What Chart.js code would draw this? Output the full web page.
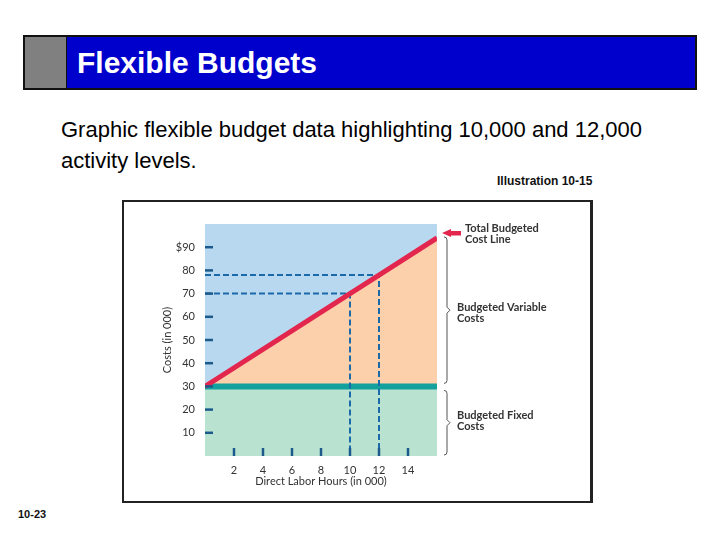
<!DOCTYPE html>
<html>
<head>
<meta charset="utf-8">
<script src="https://cdn.jsdelivr.net/npm/chart.js@4.4.0/dist/chart.umd.min.js"></script>
<style>
  body { margin: 0; width: 720px; height: 540px; background: #fff; position: relative; overflow: hidden;
         font-family: Arial, "Liberation Sans", sans-serif; }
  .titlebar { position: absolute; left: 23px; top: 35px; width: 670px; height: 51px;
              border: 2px solid #111; background: #0000cc; }
  .titlebar .grey { position: absolute; left: 0; top: 0; width: 41px; height: 51px;
                    background: #808080; border-right: 1px solid #111; }
  .titlebar h1 { position: absolute; left: 52px; top: 0; margin: 0; line-height: 51px;
                 font-size: 30px; font-weight: bold; color: #fff; }
  .subtitle { position: absolute; left: 61px; top: 114px; font-size: 22px; line-height: 31px; color: #000; }
  .illus { position: absolute; left: 497px; top: 174px; font-family: "Liberation Sans Narrow", "Arial Narrow", Arial, sans-serif;
           font-size: 12px; font-weight: bold; color: #111; }
  .pageno { position: absolute; left: 18px; top: 508px; font-size: 11px; font-weight: bold; color: #111; }
  .box { position: absolute; left: 122px; top: 200px; width: 466px; height: 299px;
         border: 2px solid #222; border-right-width: 3px; }
  #wrap { position: absolute; left: 122px; top: 200px; width: 471px; height: 303px; }
</style>
</head>
<body>
<div class="titlebar"><div class="grey"></div><h1>Flexible Budgets</h1></div>
<div class="subtitle">Graphic flexible budget data highlighting 10,000 and 12,000<br>activity levels.</div>
<div class="illus">Illustration 10-15</div>
<div class="box"></div>
<div id="wrap"><canvas id="myChart"></canvas></div>
<div class="pageno">10-23</div>
<script>
// data (hours and costs in 000)
var hours = [0, 10, 12, 16];
var totalCost = [30, 70, 78, 94];
var fixedCost = [30, 30, 30, 30];
var guideHours = [10, 12];
var guideCost = [70, 78];
var yTickLabels = ['', '10', '20', '30', '40', '50', '60', '70', '80', '$90', ''];
var xTickLabels = ['', '2', '4', '6', '8', '10', '12', '14', ''];

var toPoints = function (ys) {
    return hours.map(function (h, i) { return { x: h, y: ys[i] }; });
};

// dashed guide from the y axis to the cost line and down to the x axis
var guideSet = function (i) {
    return {
        data: [{ x: 0, y: guideCost[i] }, { x: guideHours[i], y: guideCost[i] }, { x: guideHours[i], y: 0 }],
        borderColor: '#1b69a8',
        borderWidth: 2,
        borderDash: [6, 3],
        pointRadius: 0,
        fill: false,
        order: 2
    };
};

// blue background of the plot area
var plotBackground = {
    id: 'plotBackground',
    beforeDraw: function (chart) {
        var a = chart.chartArea, ctx = chart.ctx;
        ctx.save();
        ctx.fillStyle = '#b8d8f0';
        ctx.fillRect(a.left, a.top, a.right - a.left, a.bottom - a.top);
        ctx.restore();
    }
};

// short tick marks drawn inside the plot area
var innerTicks = {
    id: 'innerTicks',
    afterDatasetsDraw: function (chart) {
        var a = chart.chartArea, ctx = chart.ctx;
        var xs = chart.scales.x, ys = chart.scales.y;
        ctx.save();
        ctx.strokeStyle = '#1d5a8c';
        ctx.lineWidth = 2.5;
        ys.ticks.forEach(function (t, i) {
            if (!yTickLabels[i]) return;
            var y = ys.getPixelForValue(t.value);
            ctx.beginPath(); ctx.moveTo(a.left, y); ctx.lineTo(a.left + 8, y); ctx.stroke();
        });
        xs.ticks.forEach(function (t, i) {
            if (!xTickLabels[i]) return;
            var x = xs.getPixelForValue(t.value);
            ctx.beginPath(); ctx.moveTo(x, a.bottom); ctx.lineTo(x, a.bottom - 8); ctx.stroke();
        });
        ctx.restore();
    }
};

var drawBrace = function (ctx, x, y1, y2) {
    var mid = (y1 + y2) / 2;
    ctx.beginPath();
    ctx.moveTo(x - 3, y1);
    ctx.quadraticCurveTo(x, y1, x, y1 + 3);
    ctx.lineTo(x, mid - 3);
    ctx.lineTo(x + 3, mid);
    ctx.lineTo(x, mid + 3);
    ctx.lineTo(x, y2 - 3);
    ctx.quadraticCurveTo(x, y2, x - 3, y2);
    ctx.stroke();
};

// right-hand labels, arrow and braces
var sideNotes = {
    id: 'sideNotes',
    afterDraw: function (chart) {
        var a = chart.chartArea, ctx = chart.ctx, ys = chart.scales.y;
        var yTop = ys.getPixelForValue(totalCost[totalCost.length - 1]);
        var yFix = ys.getPixelForValue(fixedCost[0]);
        ctx.save();
        // arrow
        var ay = a.top + 9;
        ctx.fillStyle = '#e2264e';
        ctx.beginPath();
        ctx.moveTo(a.right + 5, ay);
        ctx.lineTo(a.right + 14, ay - 4);
        ctx.lineTo(a.right + 14, ay + 4);
        ctx.closePath();
        ctx.fill();
        ctx.fillRect(a.right + 13, ay - 2, 11, 4.5);
        // braces
        ctx.strokeStyle = '#555';
        ctx.lineWidth = 1;
        drawBrace(ctx, a.right + 10, yTop - 1, yFix - 3);
        drawBrace(ctx, a.right + 10, yFix + 4, a.bottom - 1);
        // texts
        ctx.fillStyle = '#333';
        ctx.font = 'bold 11px Lato';
        ctx.textBaseline = 'middle';
        ctx.fillText('Total Budgeted', a.right + 28, a.top + 4);
        ctx.fillText('Cost Line', a.right + 28, a.top + 15);
        var mv = (yTop + yFix) / 2;
        ctx.fillText('Budgeted Variable', a.right + 20, mv - 5);
        ctx.fillText('Costs', a.right + 20, mv + 6);
        var mf = (yFix + a.bottom) / 2;
        ctx.fillText('Budgeted Fixed', a.right + 20, mf - 6);
        ctx.fillText('Costs', a.right + 20, mf + 5);
        ctx.restore();
    }
};

Chart.defaults.font.family = 'Lato';
Chart.defaults.color = '#333';

var ctx = document.getElementById('myChart').getContext('2d');
var chart = new Chart(ctx, {
    type: 'line',
    data: {
        datasets: [{
            label: 'Budgeted Fixed Costs',
            data: toPoints(fixedCost),
            borderColor: '#14a09c',
            borderWidth: 6,
            backgroundColor: '#b9e3d0',
            fill: 'origin',
            pointRadius: 0,
            order: 3
        }, {
            label: 'Total Budgeted Cost Line',
            data: toPoints(totalCost),
            borderColor: '#e2264e',
            borderWidth: 5,
            backgroundColor: '#fcd0ab',
            fill: '-1',
            pointRadius: 0,
            order: 1
        }, guideSet(0), guideSet(1)]
    },
    options: {
        responsive: true,
        maintainAspectRatio: false,
        animation: false,
        layout: { padding: { top: 24, right: 156, left: 0, bottom: 0 } },
        plugins: {
            legend: { display: false },
            tooltip: { enabled: false },
            filler: { drawTime: 'beforeDatasetsDraw' }
        },
        scales: {
            x: {
                type: 'linear',
                min: 0,
                max: 16,
                grid: { display: false, drawTicks: false },
                border: { display: false },
                ticks: {
                    stepSize: 2,
                    padding: 8,
                    font: { size: 11 },
                    callback: function (v, i) { return xTickLabels[i]; }
                },
                title: {
                    display: true,
                    text: 'Direct Labor Hours (in 000)',
                    font: { size: 11 },
                    padding: { top: 0, bottom: 15 }
                },
                afterFit: function (scale) { scale.height = 47; }
            },
            y: {
                min: 0,
                max: 100,
                grid: { display: false, drawTicks: false },
                border: { display: false },
                ticks: {
                    stepSize: 10,
                    padding: 10,
                    font: { size: 11 },
                    callback: function (v, i) { return yTickLabels[i]; }
                },
                title: {
                    display: true,
                    text: 'Costs (in 000)',
                    font: { size: 11 },
                    padding: { top: 39, bottom: 0 }
                },
                afterFit: function (scale) { scale.width = 83; }
            }
        }
    },
    plugins: [plotBackground, innerTicks, sideNotes]
});
</script>
</body>
</html>
